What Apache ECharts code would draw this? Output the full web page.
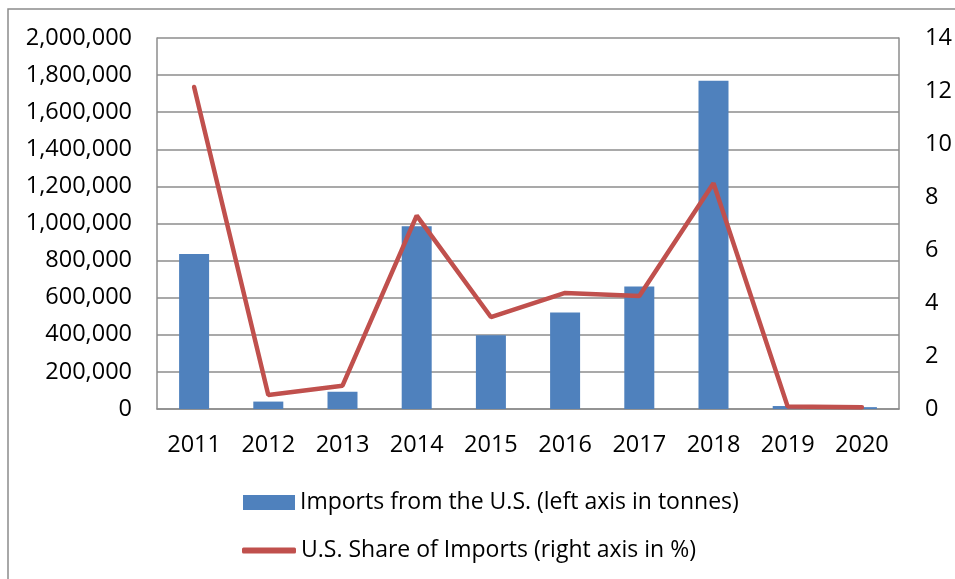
<!DOCTYPE html>
<html>
<head>
<meta charset="utf-8">
<script src="https://cdn.jsdelivr.net/npm/echarts@6/dist/echarts.min.js"></script>
<style>
html,body{margin:0;padding:0;background:#fff;}
#main{width:955px;height:579px;}
</style>
</head>
<body>
<div id="main"></div>
<script>
// data
var years = ['2011','2012','2013','2014','2015','2016','2017','2018','2019','2020'];
var importsUS = [835000, 40000, 93000, 985000, 398000, 520000, 661000, 1770000, 16000, 10000]; // tonnes
var shareUS = [12.15, 0.53, 0.88, 7.3, 3.47, 4.38, 4.26, 8.52, 0.09, 0.07]; // %

var gridColor = '#8c8c8c';
var font = 'Open Sans';
var fs = 23.5;

var option = {
    animation: false,
    backgroundColor: '#fff',
    grid: {left: 157, right: 56, top: 38, height: 371},
    legend: [
        {
            left: 238, top: 486,
            itemWidth: 52, itemHeight: 15, itemGap: 6,
            textStyle: {fontFamily: font, fontSize: 23, color: '#000'},
            data: [{name: 'Imports from the U.S. (left axis in tonnes)', icon: 'rect'}]
        },
        {
            left: 237, top: 534,
            itemWidth: 54, itemHeight: 6, itemGap: 4,
            textStyle: {fontFamily: font, fontSize: 23, color: '#000'},
            data: [{name: 'U.S. Share of Imports (right axis in %)', icon: 'roundRect'}]
        }
    ],
    graphic: [
        {type: 'rect', shape: {x: 8, y: 9, width: 970, height: 600},
         style: {fill: 'none', stroke: '#8c8c8c', lineWidth: 1.5}, silent: true}
    ],
    xAxis: {
        type: 'category',
        data: years,
        axisLine: {lineStyle: {color: gridColor, width: 1.5}},
        axisTick: {show: false},
        axisLabel: {fontFamily: font, fontSize: fs, color: '#000', margin: 24}
    },
    yAxis: [
        {
            type: 'value', min: 0, max: 2000000, interval: 200000,
            axisLine: {show: true, lineStyle: {color: gridColor, width: 1.5}},
            axisTick: {show: false},
            splitLine: {lineStyle: {color: gridColor, width: 1.5}},
            axisLabel: {
                fontFamily: font, fontSize: fs, color: '#000', margin: 25,
                formatter: function (v) { return v.toLocaleString('en-US'); }
            }
        },
        {
            type: 'value', min: 0, max: 14, interval: 2,
            axisLine: {show: true, lineStyle: {color: gridColor, width: 1.5}},
            axisTick: {show: false},
            splitLine: {show: false},
            axisLabel: {fontFamily: font, fontSize: fs, color: '#000', margin: 26}
        }
    ],
    series: [
        {
            name: 'Imports from the U.S. (left axis in tonnes)',
            type: 'bar',
            data: importsUS,
            barWidth: 30,
            itemStyle: {color: '#4f81bd'}
        },
        {
            name: 'U.S. Share of Imports (right axis in %)',
            type: 'line',
            yAxisIndex: 1,
            data: shareUS,
            symbol: 'none',
            lineStyle: {color: '#c0504d', width: 4.5, cap: 'round'},
            itemStyle: {color: '#c0504d'}
        }
    ]
};

var chart = echarts.init(document.getElementById('main'));
chart.setOption(option);
</script>
</body>
</html>
